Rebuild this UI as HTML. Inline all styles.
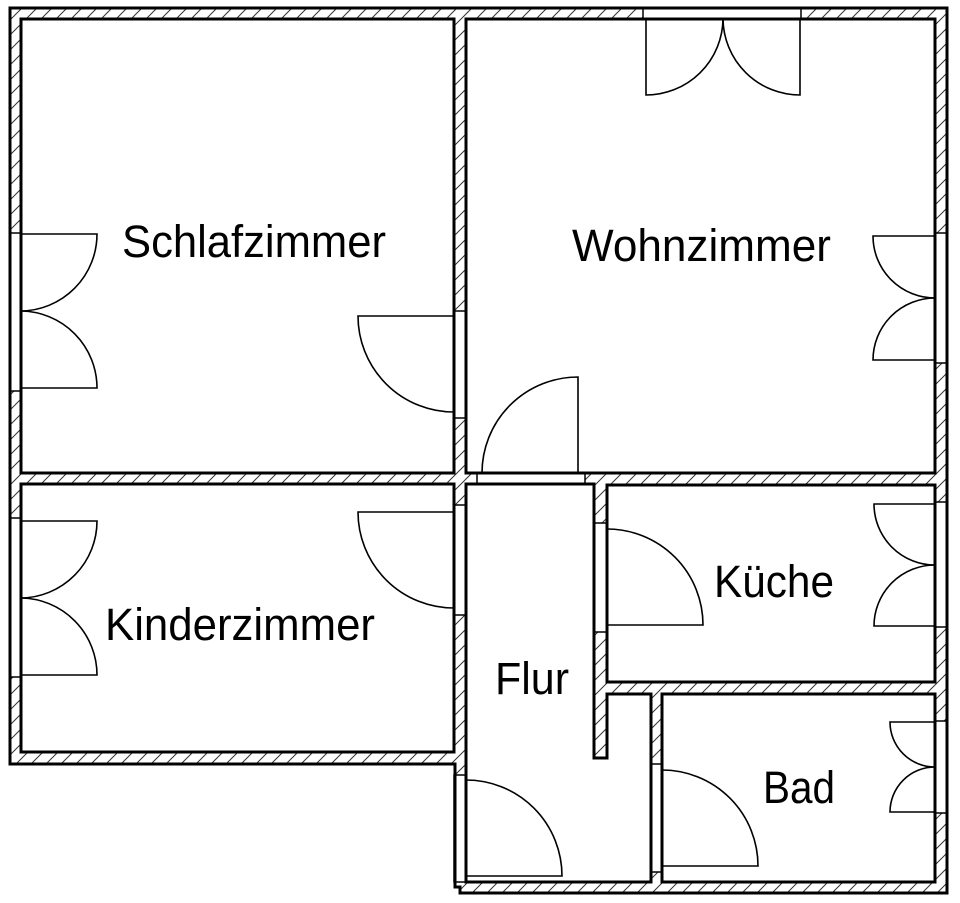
<!DOCTYPE html>
<html>
<head>
<meta charset="utf-8">
<style>
  html,body{margin:0;padding:0;background:#fff;}
  svg{display:block;}
  text{font-family:"Liberation Sans","DejaVu Sans",sans-serif;font-size:45px;fill:#000;}
</style>
</head>
<body>
<svg width="960" height="903" viewBox="0 0 960 903" xmlns="http://www.w3.org/2000/svg">
  <defs>
    <pattern id="h" width="15" height="15" patternUnits="userSpaceOnUse">
      <path d="M0,15 L15,0 M-3,3 L3,-3 M12,18 L18,12" stroke="#333" stroke-width="1"/>
    </pattern>
  </defs>
  <rect width="960" height="903" fill="#fff"/>

  <!-- Walls (hatched outer shape) -->
  <path d="M10,8 L947,8 L947,893 L460,893 L460,887 L455,887 L455,764 L10,764 Z" fill="url(#h)" stroke="none"/>

  <!-- Openings -->
  <g fill="#fff" stroke="#000" stroke-width="1.5">
    <rect x="643" y="8" width="158" height="11"/>
    <rect x="10" y="233" width="11" height="158"/>
    <rect x="10" y="518" width="11" height="159"/>
    <rect x="454" y="311" width="12" height="107"/>
    <rect x="454" y="505" width="12" height="110"/>
    <rect x="477" y="473" width="108" height="11"/>
    <rect x="594" y="523" width="13" height="109"/>
    <rect x="935" y="233" width="12" height="130"/>
    <rect x="935" y="502" width="12" height="125"/>
    <rect x="935" y="721" width="12" height="92"/>
    <rect x="651" y="764" width="11" height="108"/>
    <rect x="454" y="775" width="12" height="107"/>
  </g>

  <!-- Rooms -->
  <g fill="#fff" stroke="#000" stroke-width="3" stroke-linejoin="miter">
    <rect x="21" y="19" width="433" height="454"/>
    <rect x="466" y="19" width="469" height="454"/>
    <rect x="21" y="484" width="433" height="268"/>
    <rect x="607" y="485" width="328" height="197"/>
    <rect x="662" y="694" width="273" height="188"/>
    <path d="M466,484 L594,484 L594,758 L607,758 L607,694 L651,694 L651,882 L466,882 Z"/>
  </g>

  <!-- Outer outline -->
  <path d="M10,8 L947,8 L947,893 L460,893 L460,887 L455,887 L455,764 L10,764 Z" fill="none" stroke="#000" stroke-width="3"/>

  <!-- Doors -->
  <g fill="none" stroke="#000" stroke-width="1.6">
    <!-- Top double door Wohnzimmer -->
    <path d="M646,19 L646,95 A77,77 0 0 0 723,19"/>
    <path d="M800,19 L800,95 A77,77 0 0 1 723,19"/>
    <!-- Left Schlafzimmer double -->
    <path d="M21,234 L97,234 A77,77 0 0 1 21,311"/>
    <path d="M21,388 L97,388 A77,77 0 0 0 21,311"/>
    <!-- Left Kinderzimmer double -->
    <path d="M21,521 L97,521 A77,77 0 0 1 21,598"/>
    <path d="M21,675 L97,675 A77,77 0 0 0 21,598"/>
    <!-- Schlafzimmer door -->
    <path d="M454,316 L358,316 A96,96 0 0 0 454,412"/>
    <!-- Kinderzimmer door -->
    <path d="M454,512 L358,512 A96,96 0 0 0 454,608"/>
    <!-- Wohnzimmer bottom door -->
    <path d="M578,473 L578,377 A96,96 0 0 0 482,473"/>
    <!-- Küche door -->
    <path d="M607,625 L703,625 A96,96 0 0 0 607,529"/>
    <!-- Wohnzimmer right double -->
    <path d="M935,236 L873,236 A62,62 0 0 0 935,298"/>
    <path d="M935,360 L873,360 A62,62 0 0 1 935,298"/>
    <!-- Küche right double -->
    <path d="M935,504 L874,504 A61,61 0 0 0 935,565"/>
    <path d="M935,626 L874,626 A61,61 0 0 1 935,565"/>
    <!-- Bad right double -->
    <path d="M935,722 L890,722 A45,45 0 0 0 935,767"/>
    <path d="M935,812 L890,812 A45,45 0 0 1 935,767"/>
    <!-- Bad door -->
    <path d="M662,866 L758,866 A96,96 0 0 0 662,770"/>
    <!-- Flur door -->
    <path d="M466,876 L562,876 A96,96 0 0 0 466,780"/>
  </g>

  <!-- Labels -->
  <text x="122" y="257" textLength="264" lengthAdjust="spacingAndGlyphs">Schlafzimmer</text>
  <text x="572" y="261" textLength="259" lengthAdjust="spacingAndGlyphs">Wohnzimmer</text>
  <text x="105" y="640" textLength="270" lengthAdjust="spacingAndGlyphs">Kinderzimmer</text>
  <text x="714" y="597" textLength="120" lengthAdjust="spacingAndGlyphs">Küche</text>
  <text x="495" y="694" textLength="74" lengthAdjust="spacingAndGlyphs">Flur</text>
  <text x="763" y="803" textLength="72" lengthAdjust="spacingAndGlyphs">Bad</text>
</svg>
</body>
</html>
